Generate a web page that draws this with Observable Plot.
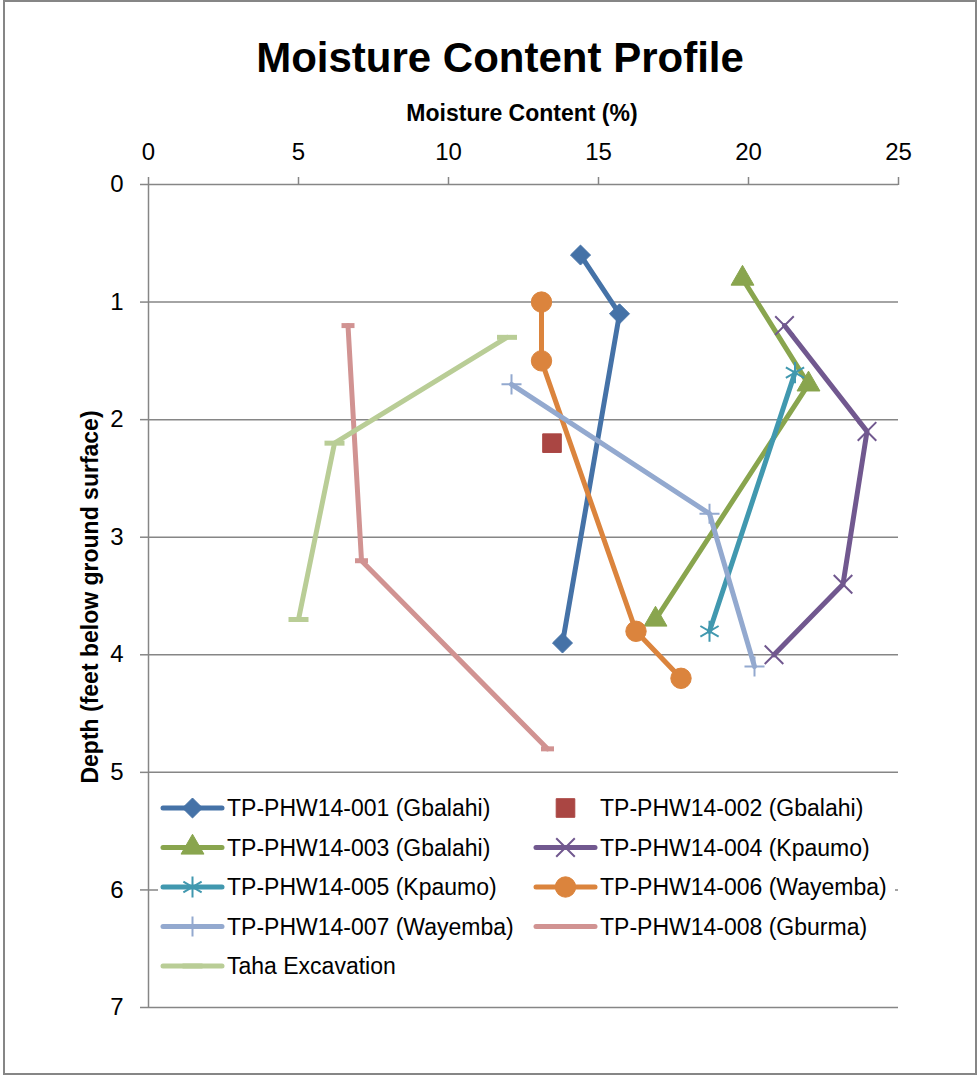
<!DOCTYPE html>
<html><head><meta charset="utf-8">
<script src="https://cdn.jsdelivr.net/npm/d3@7"></script>
<script src="https://cdn.jsdelivr.net/npm/@observablehq/plot@0.6"></script>
<style>html,body{margin:0;padding:0;background:#fff}</style>
</head><body><div id="chart"></div>
<script>
// ---- data ----
const seriesNames = [
  "TP-PHW14-001 (Gbalahi)", "TP-PHW14-002 (Gbalahi)", "TP-PHW14-003 (Gbalahi)",
  "TP-PHW14-004 (Kpaumo)", "TP-PHW14-005 (Kpaumo)", "TP-PHW14-006 (Wayemba)",
  "TP-PHW14-007 (Wayemba)", "TP-PHW14-008 (Gburma)", "Taha Excavation"
];
const moisture001 = [14.4, 15.7, 13.8];
const depth001    = [0.6, 1.1, 3.9];
const moisture002 = [13.45];
const depth002    = [2.2];
const moisture003 = [19.8, 22.0, 16.9];
const depth003    = [0.8, 1.7, 3.7];
const moisture004 = [21.2, 23.95, 23.15, 20.85];
const depth004    = [1.2, 2.1, 3.4, 4.0];
const moisture005 = [21.55, 18.7];
const depth005    = [1.6, 3.8];
const moisture006 = [13.1, 13.1, 16.25, 17.75];
const depth006    = [1.0, 1.5, 3.8, 4.2];
const moisture007 = [12.1, 18.7, 20.2];
const depth007    = [1.7, 2.8, 4.1];
const moisture008 = [6.65, 7.1, 13.3];
const depth008    = [1.2, 3.2, 4.8];
const moistureTaha = [11.95, 6.2, 5.0];
const depthTaha    = [1.3, 2.2, 3.7];

const xTicks = [0, 5, 10, 15, 20, 25];
const yTicks = [0, 1, 2, 3, 4, 5, 6, 7];
const gridDepths = [1, 2, 3, 4, 5, 6, 7];

const titleText = "Moisture Content Profile";
const xTitle = "Moisture Content (%)";
const yTitle = "Depth (feet below ground surface)";

// ---- table built from the arrays ----
const allMoisture = [moisture001, moisture002, moisture003, moisture004, moisture005, moisture006, moisture007, moisture008, moistureTaha];
const allDepth = [depth001, depth002, depth003, depth004, depth005, depth006, depth007, depth008, depthTaha];
const rows = [];
seriesNames.forEach((name, i) => {
  allMoisture[i].forEach((m, j) => rows.push({series: name, mc: m, depth: allDepth[i][j]}));
});

// ---- styles ----
const dash = {draw(ctx, size) { const r = Math.sqrt(size / Math.PI); ctx.moveTo(-r, 0); ctx.lineTo(r, 0); }};
const styles = [
  {color: "#4572A7", symbol: d3.symbolDiamond2, r: 9,   filled: true,  sw: 1, line: true},
  {color: "#AA4643", symbol: d3.symbolSquare,   r: 10.5, filled: true, sw: 1, line: false},
  {color: "#89A54E", symbol: d3.symbolTriangle, r: 8.5, filled: true,  sw: 1, line: true},
  {color: "#71588F", symbol: d3.symbolTimes,    r: 8.5, filled: false, sw: 2, line: true},
  {color: "#4198AF", symbol: d3.symbolAsterisk, r: 10,  filled: false, sw: 2, line: true},
  {color: "#DB843D", symbol: d3.symbolCircle,   r: 10.2, filled: true, sw: 1, line: true},
  {color: "#93A9CF", symbol: d3.symbolPlus,     r: 6.5, filled: false, sw: 2, line: true},
  {color: "#D19392", symbol: dash,              r: 6.5, filled: false, sw: 5, line: true},
  {color: "#B9CD96", symbol: dash,              r: 10,  filled: false, sw: 5, line: true}
];
const gray = "#868686";

const seriesMarks = [];
seriesNames.forEach((name, i) => {
  const st = styles[i];
  const data = rows.filter(d => d.series === name);
  if (st.line) seriesMarks.push(Plot.line(data, {x: "mc", y: "depth", stroke: st.color, strokeWidth: 5, strokeLinejoin: "round", strokeLinecap: "round"}));
  seriesMarks.push(Plot.dot(data, {
    x: "mc", y: "depth", symbol: st.symbol, r: st.r,
    fill: st.filled ? st.color : "none", stroke: st.color, strokeWidth: st.sw, strokeLinecap: "butt"
  }));
});

const chart = Plot.plot({
  width: 979, height: 1076,
  marginLeft: 148, marginRight: 81, marginTop: 184, marginBottom: 69,
  style: {fontFamily: "'Liberation Sans', Arial, sans-serif", fontSize: "24px", background: "#fff", color: "#000", overflow: "visible"},
  x: {domain: [0, 25]},
  y: {domain: [0, 7], reverse: true},
  marks: [
    Plot.ruleY(gridDepths, {stroke: gray, strokeWidth: 1.5}),
    Plot.ruleX([0], {stroke: gray, strokeWidth: 1.5}),
    Plot.ruleY([0], {stroke: gray, strokeWidth: 1.5}),
    Plot.axisX({anchor: "top", ticks: xTicks, tickSize: 8, tickPadding: 17, stroke: gray, strokeWidth: 1.5, label: null, fontSize: 24, tickFormat: d3.format("d")}),
    Plot.axisY({anchor: "left", ticks: yTicks, tickSize: 8, tickPadding: 17, stroke: gray, strokeWidth: 1.5, label: null, fontSize: 24, tickFormat: d3.format("d")}),
    ...seriesMarks
  ]
});

document.getElementById("chart").appendChild(chart);

// ---- decorations: border, titles, legend ----
const svg = d3.select(chart);
svg.append("rect").attr("x", 4).attr("y", 1).attr("width", 972).attr("height", 1073)
  .attr("fill", "none").attr("stroke", gray).attr("stroke-width", 2);

svg.append("text").attr("x", 500).attr("y", 72).attr("text-anchor", "middle")
  .attr("font-size", 42).attr("font-weight", "bold").attr("fill", "#000").text(titleText);
svg.append("text").attr("x", 522).attr("y", 121).attr("text-anchor", "middle")
  .attr("font-size", 23).attr("font-weight", "bold").attr("fill", "#000").text(xTitle);
svg.append("text").attr("transform", "translate(98,597) rotate(-90)").attr("text-anchor", "middle")
  .attr("font-size", 23).attr("font-weight", "bold").attr("fill", "#000").text(yTitle);

const lg = svg.append("g");
lg.append("rect").attr("x", 158).attr("y", 783).attr("width", 737).attr("height", 203).attr("fill", "#fff");
const colX = [163, 536], rowY0 = 808, rowStep = 39.5, sampleLen = 59;
seriesNames.forEach((name, i) => {
  const st = styles[i];
  const cx = colX[i % 2], cy = rowY0 + Math.floor(i / 2) * rowStep;
  const g = lg.append("g");
  if (st.line) g.append("line").attr("x1", cx).attr("x2", cx + sampleLen).attr("y1", cy).attr("y2", cy)
    .attr("stroke", st.color).attr("stroke-width", 5).attr("stroke-linecap", "round");
  g.append("path").attr("transform", `translate(${cx + sampleLen / 2},${cy})`)
    .attr("d", d3.symbol(st.symbol, st.r * st.r * Math.PI)())
    .attr("fill", st.filled ? st.color : "none").attr("stroke", st.color).attr("stroke-width", st.sw);
  g.append("text").attr("x", cx + sampleLen + 5).attr("y", cy).attr("dy", "0.35em")
    .attr("text-anchor", "start")
    .attr("font-size", 23).attr("fill", "#000").text(name);
});
</script>
</body></html>
